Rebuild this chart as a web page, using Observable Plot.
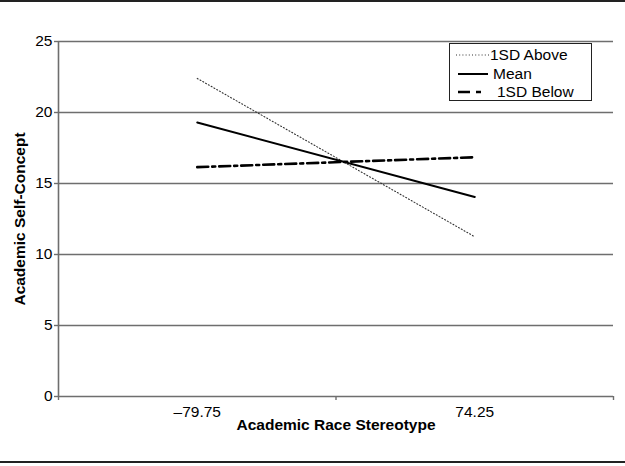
<!DOCTYPE html>
<html><head><meta charset="utf-8">
<script src="https://cdn.jsdelivr.net/npm/d3@7"></script>
<script src="https://cdn.jsdelivr.net/npm/@observablehq/plot@0.6"></script>
<style>
body{margin:0;background:#fff;font-family:"Liberation Sans",Arial,sans-serif;}
#wrap{position:relative;width:625px;height:466px;overflow:hidden}
.rule{position:absolute;left:0;width:625px;height:2px;background:#222}
#legend{position:absolute;left:449px;top:43px;width:141px;height:56px;border:1px solid #222;background:#fff;font-size:15.5px;color:#000}
#legend .row{position:absolute;height:18px;display:flex;align-items:center;white-space:nowrap}
#legend svg{display:block}
</style></head><body><div id="wrap"></div>
<script>
const categories = ["\u201379.75", "74.25"];
const seriesNames = ["1SD Above", "Mean", "1SD Below"];
const aboveValues = [22.4, 11.25];
const meanValues = [19.3, 14.05];
const belowValues = [16.15, 16.85];
const yTicks = [0, 5, 10, 15, 20, 25];
const xTitle = "Academic Race Stereotype";
const yTitle = "Academic Self-Concept";

const toRows = (vals) => vals.map((v, i) => ({i: i + 0.5, v}));
const styles = [
  {stroke: "#333", strokeWidth: 1.1, strokeDasharray: "1,2.2"},
  {stroke: "#000", strokeWidth: 2},
  {stroke: "#000", strokeWidth: 2.6, strokeDasharray: "11,4,3,4"}
];
const seriesValues = [aboveValues, meanValues, belowValues];
const grey = "#6e6e6e";

const chart = Plot.plot({
  width: 625, height: 466,
  marginLeft: 58, marginRight: 12, marginTop: 41, marginBottom: 70,
  x: {domain: [0, categories.length], axis: null},
  y: {domain: [0, 25], axis: null},
  style: {fontFamily: '"Liberation Sans", Arial, sans-serif', fontSize: "15.5px", background: "transparent", color: "#000"},
  marks: [
    Plot.ruleY(yTicks, {stroke: grey, strokeWidth: 1.6}),
    Plot.ruleX([0], {stroke: grey, strokeWidth: 1.6}),
    Plot.axisY({ticks: yTicks, tickSize: 4, tickPadding: 2, label: null, stroke: grey, strokeWidth: 1.4}),
    Plot.axisX({ticks: d3.range(categories.length + 1), tickSize: 4, tickFormat: () => "", label: null, stroke: grey, strokeWidth: 1.4}),
    Plot.axisX({ticks: categories.map((c, i) => i + 0.5), tickSize: 0, tickPadding: 9, tickFormat: v => categories[Math.floor(v)], label: null}),
    ...seriesValues.map((vals, s) => Plot.line(toRows(vals), {x: "i", y: "v", ...styles[s]})),
    Plot.text([xTitle], {frameAnchor: "bottom", dy: 33, fontWeight: "bold", text: d => d}),
    Plot.text([yTitle], {frameAnchor: "left", dx: -38, rotate: -90, textAnchor: "middle", fontWeight: "bold", text: d => d})
  ]
});

const wrap = document.getElementById("wrap");
wrap.appendChild(chart);
const ruleTop = document.createElement("div"); ruleTop.className = "rule"; ruleTop.style.top = "0px"; wrap.appendChild(ruleTop);
const ruleBot = document.createElement("div"); ruleBot.className = "rule"; ruleBot.style.top = "461px"; wrap.appendChild(ruleBot);

const legend = document.createElement("div");
legend.id = "legend";
const sampleLeft = [6, 8, 8];
const sampleW = [34, 35, 39];
const lineLen = [34, 30, 23];
seriesNames.forEach((name, s) => {
  const row = document.createElement("div");
  row.className = "row";
  row.style.top = (2 + s * 18.5) + "px";
  row.style.left = sampleLeft[s] + "px";
  const st = styles[s];
  const svg = d3.create("svg").attr("width", sampleW[s]).attr("height", 12);
  svg.append("line").attr("x1", 0).attr("x2", lineLen[s]).attr("y1", 6).attr("y2", 6)
    .attr("stroke", st.stroke).attr("stroke-width", st.strokeWidth)
    .attr("stroke-dasharray", s === 2 ? "12,6,5,20" : (st.strokeDasharray || null));
  row.appendChild(svg.node());
  const span = document.createElement("span");
  span.textContent = name;
  row.appendChild(span);
  legend.appendChild(row);
});
wrap.appendChild(legend);
</script>
</body></html>
